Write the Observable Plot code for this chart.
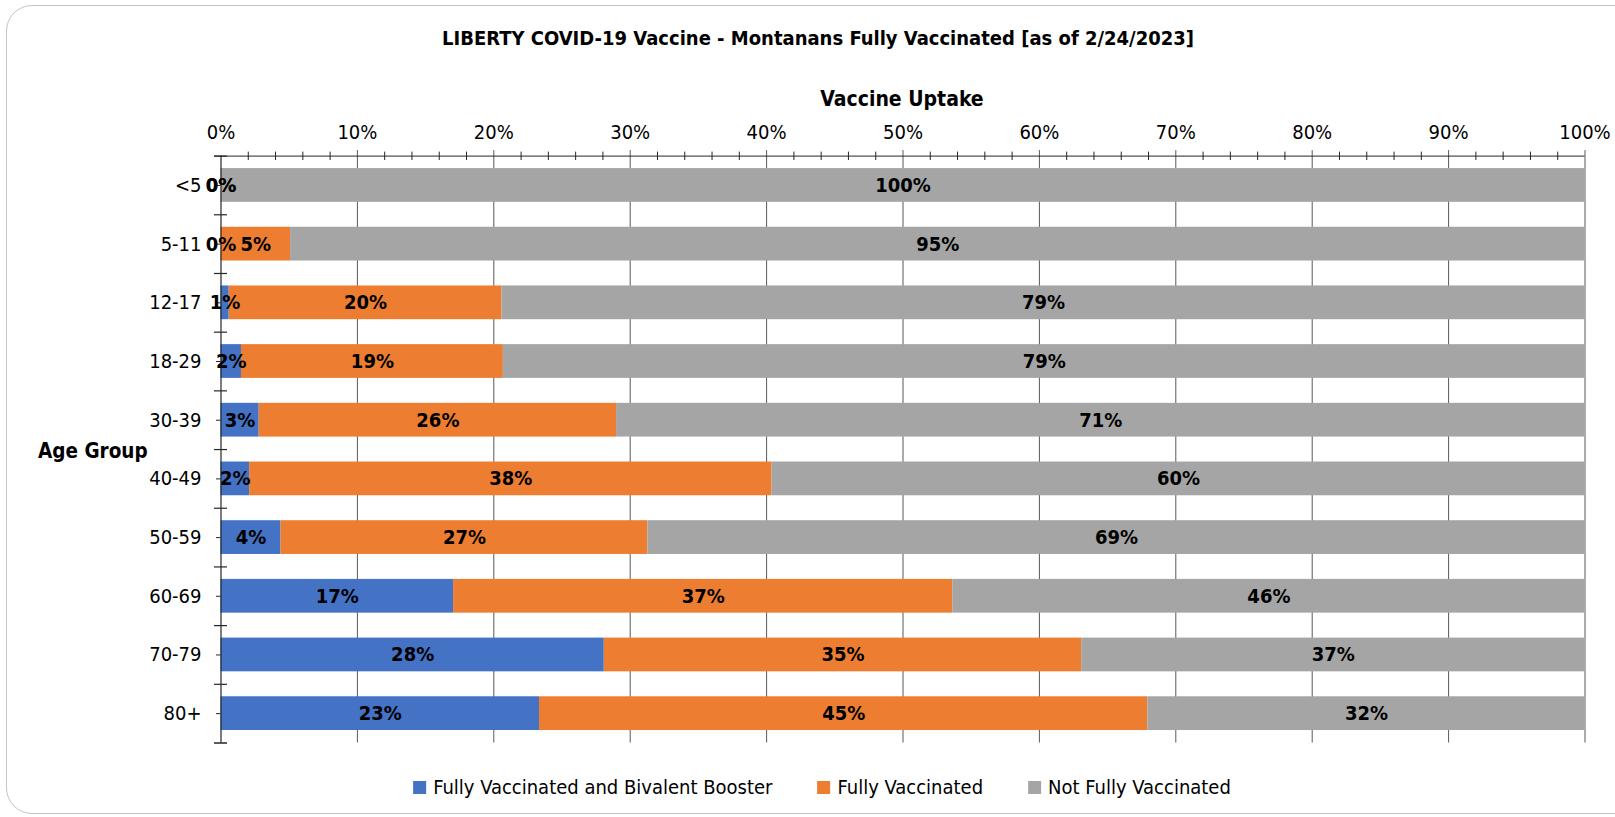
<!DOCTYPE html>
<html>
<head>
<meta charset="utf-8">
<script src="https://cdn.jsdelivr.net/npm/d3@7"></script>
<script src="https://cdn.jsdelivr.net/npm/@observablehq/plot@0.6"></script>
<style>
  html, body { margin: 0; padding: 0; background: #fff; }
  #wrap { position: relative; width: 1615px; height: 817px; overflow: hidden;
    font-family: "Liberation Sans Narrow", "DejaVu Sans Condensed", "Arial Narrow", sans-serif; color: #000; }
  #border { position: absolute; left: 6px; top: 5px; width: 1640px; height: 809px;
    border: 1.5px solid #c4c4c4; border-radius: 26px; box-sizing: border-box; }
  #chart { position: absolute; left: 0; top: 0; }
  .abs { position: absolute; white-space: nowrap; }
  #title { left: 818px; top: 38px; transform: translate(-50%, -50%); font-weight: bold; font-size: 20px; }
  #xlab { left: 902px; top: 99px; transform: translate(-50%, -50%); font-weight: bold; font-size: 21px; }
  #ylab { left: 38px; top: 451px; transform: translate(0, -50%); font-weight: bold; font-size: 20.5px; }
  #legend { left: 822px; top: 787px; transform: translate(-50%, -50%); display: flex; gap: 45px; font-size: 20px; }
  .item { display: flex; align-items: center; gap: 7px; }
  .sw { width: 13px; height: 13px; display: inline-block; }
</style>
</head>
<body>
<div id="wrap">
  <div id="border"></div>
  <div id="chart"></div>
  <div id="title" class="abs"></div>
  <div id="xlab" class="abs"></div>
  <div id="ylab" class="abs"></div>
  <div id="legend" class="abs"></div>
</div>
<script>
const titleText = "LIBERTY COVID-19 Vaccine - Montanans Fully Vaccinated [as of 2/24/2023]";
const xTitle = "Vaccine Uptake";
const yTitle = "Age Group";
const ages = ["<5", "5-11", "12-17", "18-29", "30-39", "40-49", "50-59", "60-69", "70-79", "80+"];
const series = ["Fully Vaccinated and Bivalent Booster", "Fully Vaccinated", "Not Fully Vaccinated"];
const colors = ["#4472C4", "#ED7D31", "#A5A5A5"];
const booster = [0, 0, 0.6, 1.5, 2.8, 2.1, 4.4, 17.05, 28.1, 23.35];
const fully = [0, 5.1, 20.0, 19.2, 26.2, 38.3, 26.9, 36.6, 35.0, 44.6];
const notFully = [100, 94.9, 79.4, 79.3, 71.0, 59.6, 68.7, 46.35, 36.9, 32.05];
const majorTicks = [0, 10, 20, 30, 40, 50, 60, 70, 80, 90, 100];
const minorTicks = [2, 4, 6, 8, 12, 14, 16, 18, 22, 24, 26, 28, 32, 34, 36, 38, 42, 44, 46, 48,
  52, 54, 56, 58, 62, 64, 66, 68, 72, 74, 76, 78, 82, 84, 86, 88, 92, 94, 96, 98];

const rows = [];
ages.forEach((age, i) => {
  [booster, fully, notFully].forEach((arr, s) => rows.push({age, series: series[s], value: arr[i]}));
});

const W = 1615, H = 760;
const mTop = 155.6, mBottom = 17.5, mLeft = 220.5, mRight = 30.5;
const step = (H - mTop - mBottom) / ages.length;
const axisColor = "#262626";
const gridColor = "#595959";
const font = '"Liberation Sans Narrow", "DejaVu Sans Condensed", "Arial Narrow", sans-serif';

const chart = Plot.plot({
  width: W, height: H,
  marginTop: mTop, marginBottom: mBottom, marginLeft: mLeft, marginRight: mRight,
  style: {fontFamily: font, fontSize: "20px", color: "#000", background: "transparent", overflow: "visible"},
  x: {domain: [0, 100], axis: null, label: null},
  y: {domain: ages, paddingInner: 0.425, paddingOuter: 0.2125, round: false, axis: null, label: null},
  color: {domain: series, range: colors},
  marks: [
    // gridlines + major ticks above axis
    Plot.ruleX(majorTicks.slice(1), {stroke: gridColor, strokeWidth: 1, insetTop: -5.5}),
    // stacked bars
    Plot.barX(rows, Plot.stackX({x: "value", y: "age", fill: "series"})),
    // minor ticks crossing the top axis
    Plot.ruleX(minorTicks, {stroke: axisColor, strokeWidth: 1, insetTop: -4, insetBottom: H - mTop - mBottom - 4.4}),
    // top axis line
    Plot.ruleY([ages[0]], {x1: 0, x2: 100, insetLeft: -6.5, dy: -step / 2, stroke: axisColor, strokeWidth: 1}),
    // left axis line
    Plot.ruleX([0], {stroke: axisColor, strokeWidth: 1.2}),
    // category boundary ticks
    Plot.ruleY(ages, {x1: 0, x2: 0, insetLeft: -6.5, insetRight: -6.5, dy: -step / 2, stroke: axisColor, strokeWidth: 1.2}),
    Plot.ruleY([ages[ages.length - 1]], {x1: 0, x2: 0, insetLeft: -6.5, insetRight: -6.5, dy: step / 2, stroke: axisColor, strokeWidth: 1.5}),
    // axes
    Plot.axisX({anchor: "top", label: null, ticks: majorTicks, tickSize: 0, tickPadding: 17, tickFormat: d => d + "%", fontSize: 20}),
    Plot.axisY({anchor: "left", label: null, tickSize: 4.5, tickPadding: 15, stroke: axisColor, fontSize: 20}),
    // value labels
    Plot.text(rows, Plot.stackX({x: "value", y: "age", z: "series", text: d => Math.round(d.value) + "%",
      fontWeight: "bold", fontSize: 20, fill: "#000"}))
  ]
});
document.getElementById("chart").appendChild(chart);

document.getElementById("title").textContent = titleText;
document.getElementById("xlab").textContent = xTitle;
document.getElementById("ylab").textContent = yTitle;
const legend = document.getElementById("legend");
series.forEach((s, i) => {
  const it = document.createElement("div");
  it.className = "item";
  const sw = document.createElement("span");
  sw.className = "sw";
  sw.style.background = colors[i];
  const tx = document.createElement("span");
  tx.textContent = s;
  it.appendChild(sw); it.appendChild(tx);
  legend.appendChild(it);
});
</script>
</body>
</html>
